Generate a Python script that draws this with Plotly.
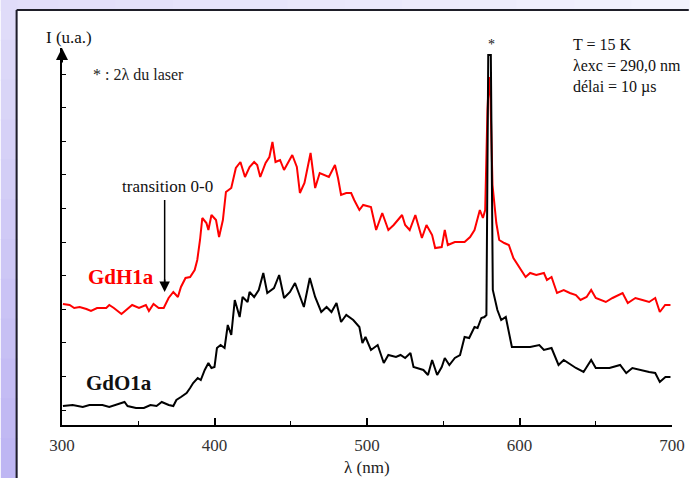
import plotly.graph_objects as go

# ---- data (wavelength in nm, intensity in arbitrary units) ----
red_wl = [300.6, 305, 308, 311.6, 316, 319, 323, 329, 331, 334, 339, 342, 346, 350.5, 355, 357, 360, 363.4, 366.7,
          369.9, 373, 376, 378, 381, 384, 387, 388.7, 390.5, 392, 394.7, 396, 398, 401, 403, 405.5, 407.5, 411, 414,
          417, 420, 423, 426, 428, 430, 433.5, 436, 438, 440, 443, 445.6, 451, 454, 456, 459, 463, 466, 469, 475,
          479, 481, 483, 486.4, 489.6, 491.6, 495, 497.5, 502.6, 506, 510, 514, 517.5, 523, 525, 528, 531.7, 536,
          539, 542.7, 544.7, 549, 551, 553, 557.6, 564, 567.6, 570.5, 574, 576, 577.5, 579, 580, 581, 582.3, 584.8,
          586.7, 590, 593, 596, 598, 604, 607, 611, 616, 618, 621, 624.6, 629, 633, 637, 640, 644, 647, 650, 656.6,
          661, 667.6, 671, 676, 680.6, 685, 689, 692, 695.5, 699]
red_I = [121, 120, 117, 118, 116, 114, 117, 117, 120, 117, 111, 115, 120, 117, 120, 114, 121, 117, 117,
         127, 133, 128, 138, 147, 148, 155, 165, 185, 207, 202, 195, 210, 205, 188, 205, 233, 237, 257,
         263, 248, 258, 263, 260, 248, 262, 268, 283, 263, 265, 255, 270, 258, 232, 242, 272, 237, 252, 248,
         260, 247, 230, 232, 232, 225, 215, 220, 218, 195, 212, 195, 200, 210, 200, 195, 210, 187,
         200, 190, 177, 178, 195, 180, 183, 183, 188, 195, 215, 207, 215, 315, 348, 325, 240, 202,
         185, 182, 180, 167, 162, 148, 152, 150, 152, 145, 148, 132, 135, 132, 130, 125, 128, 135, 127, 123,
         127, 132, 122, 127, 125, 123, 127, 113, 120, 120]

black_wl = [300.6, 307, 313.6, 318, 326.5, 331, 341, 343, 348.5, 353.7, 358, 362, 365.4, 370, 373, 375, 378, 381.7,
            384, 386, 389, 391, 393.6, 396, 398, 400, 401.6, 404, 406.6, 408.7, 411, 413.3, 416.5, 418.4, 421.7,
            423, 426, 429, 432, 434.6, 439, 442.4, 445.6, 449.5, 452.8, 458.6, 462.5, 466, 470, 473.5, 476.7, 480,
            483, 486.4, 491, 495, 497, 499, 502.6, 507, 511, 514, 519, 522, 525, 528.5, 530.5, 537, 540, 542.7,
            546, 549, 551, 554, 557.6, 561, 564, 567, 570.5, 572.5, 575, 577, 578.3, 579.5, 581.2, 582.5, 585.5,
            588, 591, 595, 607, 613, 616, 621, 625.6, 629, 637, 642, 647, 650, 659, 666, 670, 674, 685, 689, 692,
            695.7, 699]
black_I = [19, 20, 18, 20, 20, 18, 23, 19, 17, 17, 20, 19, 23, 20, 19, 25, 28, 32,
           37, 42, 47, 45, 55, 62, 57, 58, 77, 80, 77, 100, 90, 125, 108, 128, 123,
           133, 128, 135, 152, 132, 137, 150, 127, 133, 142, 118, 147, 128, 113, 118, 113, 122,
           103, 110, 105, 98, 82, 88, 75, 80, 62, 70, 68, 70, 67, 72, 58, 55, 50, 65,
           50, 58, 67, 60, 67, 70, 88, 87, 98, 97, 107, 108, 110, 370, 370, 135, 115,
           105, 108, 78, 78, 80, 75, 77, 60, 65, 57, 53, 65, 57, 57, 60, 52, 57, 53, 52, 43,
           48, 48]

x_ticks = [300, 400, 500, 600, 700]

SERIF = "Liberation Serif, Times New Roman, serif"

# plot-area geometry helpers (pixel -> paper)
L, R, T, B = 62, 680, 48, 425
W, H = 697, 478


def pxx(x):
    return (x - L) / (R - L)


def pxy(y):
    return (B - y) / (B - T)


fig = go.Figure()
fig.add_trace(go.Scatter(x=red_wl, y=red_I, mode="lines",
                         line=dict(color="#ff0000", width=2), name="GdH1a"))
fig.add_trace(go.Scatter(x=black_wl, y=black_I, mode="lines",
                         line=dict(color="#000000", width=2), name="GdO1a"))

shapes = []
# background: top strip gradient (horizontal)
n = 12
for k in range(n):
    t = k / (n - 1)
    c = (int(226 + (242 - 226) * t), int(222 + (242 - 222) * t), int(249 + (253 - 249) * t))
    shapes.append(dict(type="rect", xref="paper", yref="paper", layer="below",
                       x0=pxx(k * W / n), x1=pxx((k + 1) * W / n + 1), y0=pxy(0), y1=pxy(11),
                       fillcolor="rgb(%d,%d,%d)" % c, line=dict(width=0)))
# background: left strip gradient (vertical)
for k in range(n):
    t = k / (n - 1)
    c = (int(224 + (190 - 224) * t), int(220 + (182 - 220) * t), int(249 + (243 - 249) * t))
    shapes.append(dict(type="rect", xref="paper", yref="paper", layer="below",
                       x0=pxx(0), x1=pxx(17), y0=pxy(k * H / n), y1=pxy((k + 1) * H / n + 1),
                       fillcolor="rgb(%d,%d,%d)" % c, line=dict(width=0)))
# frame lines
shapes.append(dict(type="line", xref="paper", yref="paper", layer="below",
                   x0=pxx(16), x1=pxx(W), y0=pxy(10), y1=pxy(10), line=dict(color="#1e1e28", width=2)))
shapes.append(dict(type="line", xref="paper", yref="paper", layer="below",
                   x0=pxx(16), x1=pxx(16), y0=pxy(10), y1=pxy(H), line=dict(color="#1e1e28", width=2)))
# "transition 0-0" arrow shaft
shapes.append(dict(type="line", xref="paper", yref="paper",
                   x0=pxx(166), x1=pxx(166), y0=pxy(200), y1=pxy(285), line=dict(color="black", width=1.5)))


def label(xp, yp, text, size, color="#111", xanchor="center", bold=False):
    return dict(x=pxx(xp), y=pxy(yp), xref="paper", yref="paper", text=("<b>%s</b>" % text) if bold else text,
                showarrow=False, xanchor=xanchor, yanchor="middle",
                font=dict(family=SERIF, size=size, color=color))


annotations = [
    # y-axis arrow head
    dict(x=300, y=377, xref="x", yref="y", ax=0, ay=16, showarrow=True, arrowhead=2,
         arrowsize=1.2, arrowwidth=2, arrowcolor="black", text=""),
    # transition arrow head
    dict(x=pxx(166), y=pxy(292), xref="paper", yref="paper", ax=0, ay=-14, showarrow=True,
         arrowhead=2, arrowsize=1.4, arrowwidth=1.5, arrowcolor="black", text=""),
    label(69, 37, "I (u.a.)", 17),
    label(91, 74, "* : 2λ du laser", 16, "#222", xanchor="left"),
    label(169, 186, "transition 0-0", 17),
    label(122, 277, "GdH1a", 21, "#ff0000", bold=True),
    label(120, 383, "GdO1a", 21, "#111", bold=True),
    label(497, 45, "*", 14),
    label(578, 44, "T = 15 K", 16, xanchor="left"),
    label(578, 65, "λexc = 290,0 nm", 16, xanchor="left"),
    label(578, 87, "délai = 10 µs", 16, xanchor="left"),
    label(371, 467, "λ (nm)", 17, "#222"),
]

fig.update_layout(
    width=W, height=H,
    margin=dict(l=L, r=W - R, t=T, b=H - B, pad=0),
    paper_bgcolor="white", plot_bgcolor="white",
    showlegend=False,
    shapes=shapes, annotations=annotations,
    xaxis=dict(range=[300, 700], tickvals=x_ticks, ticks="inside", ticklen=7, tickwidth=1.5,
               tickcolor="black", showline=True, linecolor="black", linewidth=2, showgrid=False,
               zeroline=False, tickfont=dict(family=SERIF, size=17, color="#333"),
               ticklabelstandoff=4,
               minor=dict(dtick=50, tick0=300, ticks="inside", ticklen=4, tickwidth=1.2, tickcolor="black",
                          showgrid=False)),
    yaxis=dict(range=[0, 377], tick0=15, dtick=33.6, ticks="inside", ticklen=4, tickwidth=1,
               tickcolor="black", showticklabels=False, showline=True, linecolor="black", linewidth=2,
               showgrid=False, zeroline=False),
)

css_reset = (
    "var s=document.createElement('style');"
    "s.textContent='html,body{margin:0!important;padding:0!important;overflow:hidden!important;}';"
    "document.head.appendChild(s);"
)
fig.write_html("out.html", config={"displayModeBar": False}, post_script=css_reset)
